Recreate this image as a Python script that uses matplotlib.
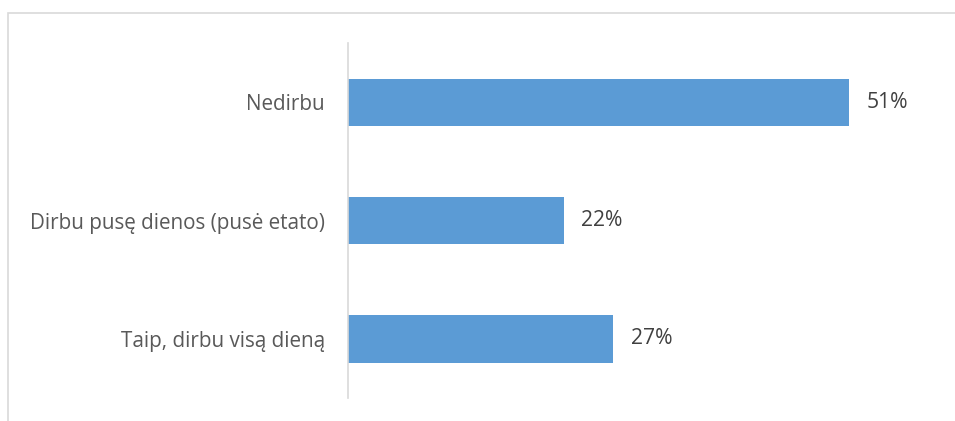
import matplotlib
matplotlib.use("Agg")
import matplotlib.pyplot as plt
from matplotlib.patches import Rectangle

categories = ["Nedirbu", "Dirbu pusę dienos (pusė etato)", "Taip, dirbu visą dieną"]
values = [51, 22, 27]
value_labels = ["51%", "22%", "27%"]

plt.rcParams['font.family'] = ['Open Sans', 'DejaVu Sans']

W, H = 955, 421
fig = plt.figure(figsize=(W/100, H/100), dpi=100)

# outer chart border (top and left visible)
fig.patches.append(Rectangle((8/W, -0.1), 1.2, (421-13)/H + 0.1, transform=fig.transFigure,
                             fill=False, edgecolor='#d9d9d9', linewidth=1.2, zorder=0))

ax_left = 348/W
ax_bottom = (H-398)/H
ax_top = (H-43)/H
xmax = 60
px_per_unit = 9.82
ax = fig.add_axes([ax_left, ax_bottom, xmax*px_per_unit/W, ax_top-ax_bottom])

ypos = list(range(len(categories)))
ax.barh(ypos, values, height=0.4, color='#5b9bd5')
ax.set_ylim(len(categories)-0.5, -0.5)
ax.set_xlim(0, xmax)
ax.set_yticks(ypos)
ax.set_yticklabels(categories, fontsize=14.9, color='#595959')
ax.tick_params(axis='y', length=0, pad=16.5)
ax.set_xticks([])
for s in ['top', 'right', 'bottom']:
    ax.spines[s].set_visible(False)
ax.spines['left'].set_color('#d9d9d9')
ax.spines['left'].set_linewidth(1.2)
ax.patch.set_alpha(0)

for y, v, lab in zip(ypos, values, value_labels):
    ax.annotate(lab, (v, y), xytext=(12.5, 0), textcoords='offset points',
                ha='left', va='center', fontsize=15.2, color='#404040')

fig.savefig("out.png", dpi=100)
